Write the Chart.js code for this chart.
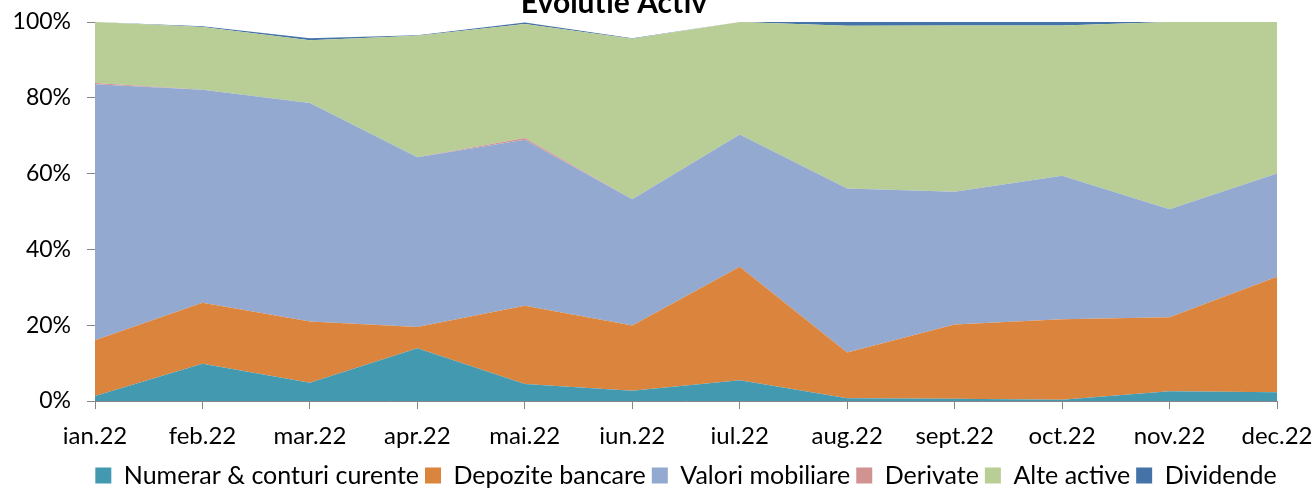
<!DOCTYPE html>
<html>
<head>
<meta charset="utf-8">
<script src="https://cdn.jsdelivr.net/npm/chart.js@4"></script>
<style>
  html, body { margin: 0; padding: 0; background: #fff; }
  #wrap { width: 1315px; height: 488px; }
</style>
</head>
<body>
<div id="wrap"><canvas id="activChart" width="1315" height="488"></canvas></div>
<script>
// luni si procente (% din activ)
const months = ['ian.22', 'feb.22', 'mar.22', 'apr.22', 'mai.22', 'iun.22', 'iul.22', 'aug.22', 'sept.22', 'oct.22', 'nov.22', 'dec.22'];
const numerar = [1.3, 9.8, 4.8, 13.9, 4.5, 2.7, 5.5, 0.7, 0.6, 0.3, 2.6, 2.3];
const depozite = [14.7, 16.1, 16.2, 5.6, 20.6, 17.2, 29.9, 12.1, 19.6, 21.3, 19.5, 30.5];
const valori = [67.6, 56.2, 57.6, 44.8, 43.8, 33.3, 34.9, 43.3, 35.0, 37.8, 28.5, 27.2];
const derivate = [0.3, 0, 0, 0, 0.5, 0, 0, 0, 0, 0, 0, 0];
const alteActive = [16.1, 16.6, 16.6, 32.1, 30.1, 42.4, 29.7, 42.9, 43.9, 39.7, 49.4, 40.0];
const dividende = [0, 0.2, 0.5, 0.1, 0.4, 0.1, 0, 1.0, 0.9, 0.9, 0, 0];
const yTicks = [0, 20, 40, 60, 80, 100];

const FONT = 'Lato, "Open Sans", sans-serif';

function area(label, data, color, fill) {
    return {
        label: label,
        data: data,
        backgroundColor: color,
        borderColor: color,
        borderWidth: 0,
        pointRadius: 0,
        tension: 0,
        fill: fill
    };
}

// titlul e taiat sus, ca in original
const titlePlugin = {
    id: 'titluActiv',
    afterLayout(chart) {
        // legenda centrata pe zona graficului, nu pe tot canvas-ul
        const lg = chart.legend;
        const shift = (chart.chartArea.left + chart.chartArea.right) / 2 - (lg.left + lg.right) / 2;
        lg.left += shift;
        lg.right += shift;
    },
    afterDraw(chart) {
        const ctx = chart.ctx;
        ctx.save();
        ctx.font = 'bold 30px ' + FONT;
        ctx.fillStyle = '#000';
        ctx.textAlign = 'center';
        ctx.textBaseline = 'alphabetic';
        ctx.fillText('Evolutie Activ', 614, 13);
        ctx.restore();
    }
};

new Chart(document.getElementById('activChart'), {
    type: 'line',
    data: {
        labels: months,
        datasets: [
            area('Numerar & conturi curente', numerar, '#4399B0', 'origin'),
            area('Depozite bancare', depozite, '#DB843D', '-1'),
            area('Valori mobiliare', valori, '#93A9CF', '-1'),
            area('Derivate', derivate, '#D19392', '-1'),
            area('Alte active', alteActive, '#B9CD96', '-1'),
            area('Dividende', dividende, '#4572A7', '-1')
        ]
    },
    plugins: [titlePlugin],
    options: {
        responsive: false,
        animation: false,
        layout: { padding: { left: 0, right: 38, top: 22, bottom: -10 } },
        plugins: {
            tooltip: { enabled: false },
            title: { display: false },
            legend: {
                position: 'bottom',
                labels: {
                    boxWidth: 16,
                    boxHeight: 16,
                    padding: 6,
                    color: '#000',
                    font: { family: FONT, size: 25 }
                }
            }
        },
        scales: {
            x: {
                offset: false,
                grid: { drawOnChartArea: false, tickLength: 8, color: '#868686' },
                border: { color: '#868686' },
                ticks: {
                    color: '#000',
                    maxRotation: 0,
                    autoSkip: false,
                    padding: 13,
                    font: { family: FONT, size: 24 }
                },
                afterFit(scale) {
                    scale.height = 56;
                    scale.paddingLeft = 0;
                    scale.paddingRight = 0;
                }
            },
            y: {
                stacked: true,
                min: 0,
                max: 100,
                afterBuildTicks(scale) {
                    scale.ticks = yTicks.map(v => ({ value: v }));
                },
                grid: { drawOnChartArea: false, tickLength: 8, color: '#868686' },
                border: { color: '#868686' },
                ticks: {
                    color: '#000',
                    padding: 16,
                    font: { family: FONT, size: 23 },
                    callback: v => v + '%'
                },
                afterFit(scale) {
                    scale.width = 95;
                    scale.paddingTop = 0;
                    scale.paddingBottom = 0;
                }
            }
        }
    }
});
</script>
</body>
</html>
